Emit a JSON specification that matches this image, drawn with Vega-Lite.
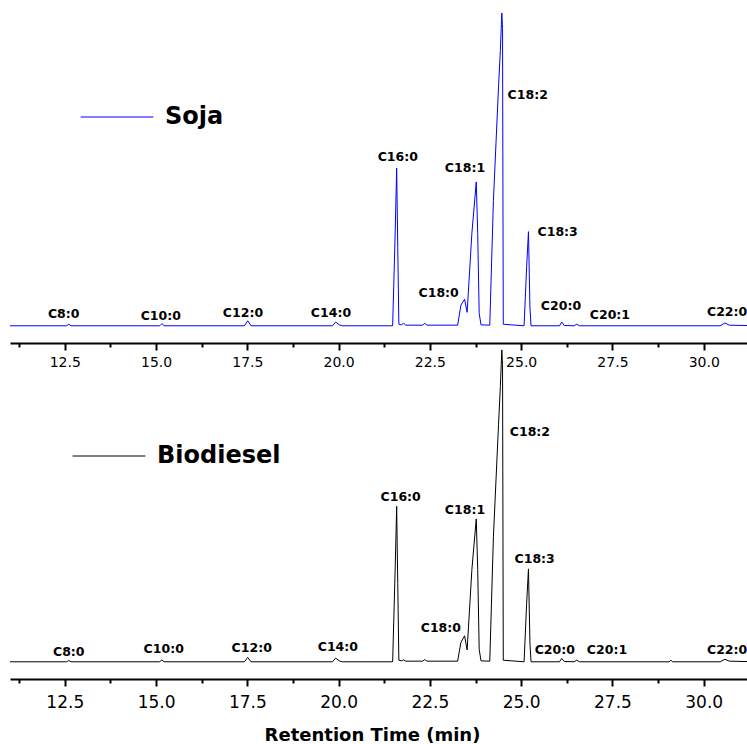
{
  "$schema": "https://vega.github.io/schema/vega-lite/v6.json",
  "padding": {"left": 8, "top": 13, "right": 0, "bottom": 0},
  "background": "white",
  "config": {
    "view": {"stroke": null},
    "font": "DejaVu Sans",
    "axis": {"grid": false, "domainColor": "black", "domainWidth": 2, "tickColor": "black", "tickWidth": 2, "labelColor": "black", "labelFont": "DejaVu Sans", "titleColor": "black"},
    "legend": {"orient": "none", "title": null, "symbolType": "stroke", "symbolSize": 5300, "symbolStrokeWidth": 1, "labelFont": "DejaVu Sans", "labelFontSize": 24, "labelFontWeight": "bold", "labelColor": "black", "labelOffset": 11, "padding": 0}
  },
  "datasets": {
    "signals": [
      {"series": "Soja", "rt": 11.0, "v": 0},
      {"series": "Soja", "rt": 12.55, "v": 0},
      {"series": "Soja", "rt": 12.61, "v": 0.5},
      {"series": "Soja", "rt": 12.67, "v": 0},
      {"series": "Soja", "rt": 15.1, "v": 0},
      {"series": "Soja", "rt": 15.16, "v": 0.7},
      {"series": "Soja", "rt": 15.22, "v": 0},
      {"series": "Soja", "rt": 17.42, "v": 0},
      {"series": "Soja", "rt": 17.51, "v": 1.6},
      {"series": "Soja", "rt": 17.6, "v": 0},
      {"series": "Soja", "rt": 19.83, "v": 0},
      {"series": "Soja", "rt": 19.92, "v": 1.2},
      {"series": "Soja", "rt": 20.02, "v": 0.3},
      {"series": "Soja", "rt": 20.1, "v": 0},
      {"series": "Soja", "rt": 21.48, "v": 0},
      {"series": "Soja", "rt": 21.55, "v": 30},
      {"series": "Soja", "rt": 21.59, "v": 50.4},
      {"series": "Soja", "rt": 21.62, "v": 25},
      {"series": "Soja", "rt": 21.65, "v": 0.5},
      {"series": "Soja", "rt": 21.72, "v": 0.3},
      {"series": "Soja", "rt": 21.78, "v": 0.8},
      {"series": "Soja", "rt": 21.84, "v": 0.2},
      {"series": "Soja", "rt": 22.3, "v": 0.2},
      {"series": "Soja", "rt": 22.36, "v": 0.8},
      {"series": "Soja", "rt": 22.42, "v": 0.2},
      {"series": "Soja", "rt": 23.26, "v": 0.2},
      {"series": "Soja", "rt": 23.35, "v": 6.6},
      {"series": "Soja", "rt": 23.45, "v": 8.5},
      {"series": "Soja", "rt": 23.52, "v": 4.3},
      {"series": "Soja", "rt": 23.65, "v": 29.6},
      {"series": "Soja", "rt": 23.77, "v": 46},
      {"series": "Soja", "rt": 23.81, "v": 29.6},
      {"series": "Soja", "rt": 23.85, "v": 4},
      {"series": "Soja", "rt": 23.9, "v": 0.3},
      {"series": "Soja", "rt": 24.14, "v": 0.2},
      {"series": "Soja", "rt": 24.24, "v": 40},
      {"series": "Soja", "rt": 24.38, "v": 76.4},
      {"series": "Soja", "rt": 24.43, "v": 88},
      {"series": "Soja", "rt": 24.47, "v": 100},
      {"series": "Soja", "rt": 24.49, "v": 95},
      {"series": "Soja", "rt": 24.51, "v": 0.5},
      {"series": "Soja", "rt": 25.08, "v": 0},
      {"series": "Soja", "rt": 25.15, "v": 18.9},
      {"series": "Soja", "rt": 25.2, "v": 30.1},
      {"series": "Soja", "rt": 25.24, "v": 6},
      {"series": "Soja", "rt": 25.27, "v": 0},
      {"series": "Soja", "rt": 26.05, "v": 0},
      {"series": "Soja", "rt": 26.11, "v": 1.2},
      {"series": "Soja", "rt": 26.18, "v": 0.1},
      {"series": "Soja", "rt": 26.45, "v": 0},
      {"series": "Soja", "rt": 26.52, "v": 0.5},
      {"series": "Soja", "rt": 26.6, "v": 0},
      {"series": "Soja", "rt": 30.45, "v": 0},
      {"series": "Soja", "rt": 30.58, "v": 0.9},
      {"series": "Soja", "rt": 30.7, "v": 0.2},
      {"series": "Soja", "rt": 31.5, "v": 0},
      {"series": "Biodiesel", "rt": 11.0, "v": 0},
      {"series": "Biodiesel", "rt": 12.55, "v": 0},
      {"series": "Biodiesel", "rt": 12.61, "v": 0.4},
      {"series": "Biodiesel", "rt": 12.67, "v": 0},
      {"series": "Biodiesel", "rt": 15.1, "v": 0},
      {"series": "Biodiesel", "rt": 15.16, "v": 0.6},
      {"series": "Biodiesel", "rt": 15.22, "v": 0},
      {"series": "Biodiesel", "rt": 17.42, "v": 0},
      {"series": "Biodiesel", "rt": 17.51, "v": 1.4},
      {"series": "Biodiesel", "rt": 17.6, "v": 0},
      {"series": "Biodiesel", "rt": 19.83, "v": 0},
      {"series": "Biodiesel", "rt": 19.92, "v": 1.2},
      {"series": "Biodiesel", "rt": 20.02, "v": 0.3},
      {"series": "Biodiesel", "rt": 20.1, "v": 0},
      {"series": "Biodiesel", "rt": 21.48, "v": 0},
      {"series": "Biodiesel", "rt": 21.55, "v": 30},
      {"series": "Biodiesel", "rt": 21.59, "v": 49.7},
      {"series": "Biodiesel", "rt": 21.62, "v": 25},
      {"series": "Biodiesel", "rt": 21.65, "v": 0.5},
      {"series": "Biodiesel", "rt": 21.72, "v": 0.3},
      {"series": "Biodiesel", "rt": 21.78, "v": 0.6},
      {"series": "Biodiesel", "rt": 21.84, "v": 0.2},
      {"series": "Biodiesel", "rt": 22.3, "v": 0.2},
      {"series": "Biodiesel", "rt": 22.36, "v": 0.7},
      {"series": "Biodiesel", "rt": 22.42, "v": 0.2},
      {"series": "Biodiesel", "rt": 23.26, "v": 0.2},
      {"series": "Biodiesel", "rt": 23.35, "v": 6.2},
      {"series": "Biodiesel", "rt": 23.45, "v": 8.3},
      {"series": "Biodiesel", "rt": 23.52, "v": 3.8},
      {"series": "Biodiesel", "rt": 23.65, "v": 29.5},
      {"series": "Biodiesel", "rt": 23.77, "v": 45.7},
      {"series": "Biodiesel", "rt": 23.81, "v": 29.5},
      {"series": "Biodiesel", "rt": 23.85, "v": 4},
      {"series": "Biodiesel", "rt": 23.9, "v": 0.3},
      {"series": "Biodiesel", "rt": 24.14, "v": 0.2},
      {"series": "Biodiesel", "rt": 24.24, "v": 40},
      {"series": "Biodiesel", "rt": 24.38, "v": 75.8},
      {"series": "Biodiesel", "rt": 24.43, "v": 88},
      {"series": "Biodiesel", "rt": 24.47, "v": 99.7},
      {"series": "Biodiesel", "rt": 24.49, "v": 95},
      {"series": "Biodiesel", "rt": 24.51, "v": 0.5},
      {"series": "Biodiesel", "rt": 25.08, "v": 0},
      {"series": "Biodiesel", "rt": 25.15, "v": 18.7},
      {"series": "Biodiesel", "rt": 25.2, "v": 29.7},
      {"series": "Biodiesel", "rt": 25.24, "v": 6},
      {"series": "Biodiesel", "rt": 25.27, "v": 0},
      {"series": "Biodiesel", "rt": 26.05, "v": 0},
      {"series": "Biodiesel", "rt": 26.11, "v": 1.1},
      {"series": "Biodiesel", "rt": 26.18, "v": 0.1},
      {"series": "Biodiesel", "rt": 26.45, "v": 0},
      {"series": "Biodiesel", "rt": 26.52, "v": 0.5},
      {"series": "Biodiesel", "rt": 26.6, "v": 0},
      {"series": "Biodiesel", "rt": 29.05, "v": 0},
      {"series": "Biodiesel", "rt": 29.1, "v": 0.5},
      {"series": "Biodiesel", "rt": 29.15, "v": 0},
      {"series": "Biodiesel", "rt": 30.45, "v": 0},
      {"series": "Biodiesel", "rt": 30.58, "v": 0.8},
      {"series": "Biodiesel", "rt": 30.7, "v": 0.2},
      {"series": "Biodiesel", "rt": 31.5, "v": 0}
    ],
    "labels": [
      {"series": "Soja", "label": "C8:0", "rt": 12.47, "v": 3.8},
      {"series": "Soja", "label": "C10:0", "rt": 15.13, "v": 3.1},
      {"series": "Soja", "label": "C12:0", "rt": 17.38, "v": 4.1},
      {"series": "Soja", "label": "C14:0", "rt": 19.79, "v": 4.1},
      {"series": "Soja", "label": "C16:0", "rt": 21.62, "v": 54.0},
      {"series": "Soja", "label": "C18:0", "rt": 22.74, "v": 10.5},
      {"series": "Soja", "label": "C18:1", "rt": 23.46, "v": 50.4},
      {"series": "Soja", "label": "C18:2", "rt": 25.18, "v": 73.8},
      {"series": "Soja", "label": "C18:3", "rt": 26.0, "v": 30.0},
      {"series": "Soja", "label": "C20:0", "rt": 26.09, "v": 6.3},
      {"series": "Soja", "label": "C20:1", "rt": 27.43, "v": 3.5},
      {"series": "Soja", "label": "C22:0", "rt": 30.64, "v": 4.4},
      {"series": "Biodiesel", "label": "C8:0", "rt": 12.61, "v": 3.1},
      {"series": "Biodiesel", "label": "C10:0", "rt": 15.21, "v": 4.1},
      {"series": "Biodiesel", "label": "C12:0", "rt": 17.62, "v": 4.4},
      {"series": "Biodiesel", "label": "C14:0", "rt": 19.98, "v": 4.7},
      {"series": "Biodiesel", "label": "C16:0", "rt": 21.7, "v": 52.7},
      {"series": "Biodiesel", "label": "C18:0", "rt": 22.8, "v": 10.8},
      {"series": "Biodiesel", "label": "C18:1", "rt": 23.46, "v": 48.5},
      {"series": "Biodiesel", "label": "C18:2", "rt": 25.24, "v": 73.5},
      {"series": "Biodiesel", "label": "C18:3", "rt": 25.37, "v": 32.9},
      {"series": "Biodiesel", "label": "C20:0", "rt": 25.92, "v": 3.8},
      {"series": "Biodiesel", "label": "C20:1", "rt": 27.35, "v": 3.8},
      {"series": "Biodiesel", "label": "C22:0", "rt": 30.64, "v": 3.8}
    ]
  },
  "vconcat": [
    {
      "width": 739,
      "height": 330,
      "layer": [
        {
          "data": {"name": "signals"},
          "transform": [{"filter": "datum.series === 'Soja'"}],
          "mark": {"type": "line", "strokeWidth": 1, "clip": true},
          "encoding": {
            "x": {"field": "rt", "type": "quantitative", "scale": {"domain": [11, 31.24], "nice": false, "zero": false},
              "axis": {"title": null, "values": [11.25, 12.5, 13.75, 15, 16.25, 17.5, 18.75, 20, 21.25, 22.5, 23.75, 25, 26.25, 27.5, 28.75, 30],
                "labelExpr": "datum.value % 2.5 === 0 ? format(datum.value, '.1f') : ''",
                "tickSize": {"condition": {"test": "datum.value % 2.5 === 0", "value": 7}, "value": 4},
                "labelFontSize": 14, "labelPadding": 5, "labelFlush": false, "labelOverlap": false}},
            "y": {"field": "v", "type": "quantitative", "scale": {"domain": [-5.5, 100], "nice": false, "zero": false}, "axis": null},
            "color": {"field": "series", "type": "nominal", "scale": {"domain": ["Soja"], "range": ["#0000ff"]},
              "legend": {"legendX": 70, "legendY": 67}}
          }
        },
        {
          "data": {"name": "labels"},
          "transform": [{"filter": "datum.series === 'Soja'"}],
          "mark": {"type": "text", "font": "DejaVu Sans", "fontWeight": "bold", "fontSize": 12.5, "color": "black", "align": "center", "baseline": "middle", "clip": true},
          "encoding": {
            "x": {"field": "rt", "type": "quantitative"},
            "y": {"field": "v", "type": "quantitative"},
            "text": {"field": "label"}
          }
        }
      ]
    },
    {
      "width": 739,
      "height": 330,
      "layer": [
        {
          "data": {"name": "signals"},
          "transform": [{"filter": "datum.series === 'Biodiesel'"}],
          "mark": {"type": "line", "strokeWidth": 1, "clip": false},
          "encoding": {
            "x": {"field": "rt", "type": "quantitative", "scale": {"domain": [11, 31.24], "nice": false, "zero": false},
              "axis": {"title": "Retention Time (min)", "values": [11.25, 12.5, 13.75, 15, 16.25, 17.5, 18.75, 20, 21.25, 22.5, 23.75, 25, 26.25, 27.5, 28.75, 30],
                "labelExpr": "datum.value % 2.5 === 0 ? format(datum.value, '.1f') : ''",
                "tickSize": {"condition": {"test": "datum.value % 2.5 === 0", "value": 7}, "value": 4},
                "labelFontSize": 17, "labelPadding": 8, "labelFlush": false, "labelOverlap": false,
                "titleFont": "DejaVu Sans", "titleFontSize": 18, "titleFontWeight": "bold", "titlePadding": 16, "titleX": 362}},
            "y": {"field": "v", "type": "quantitative", "scale": {"domain": [-5.5, 100], "nice": false, "zero": false}, "axis": null},
            "color": {"field": "series", "type": "nominal", "scale": {"domain": ["Biodiesel"], "range": ["#000000"]},
              "legend": {"legendX": 62, "legendY": 70}}
          }
        },
        {
          "data": {"name": "labels"},
          "transform": [{"filter": "datum.series === 'Biodiesel'"}],
          "mark": {"type": "text", "font": "DejaVu Sans", "fontWeight": "bold", "fontSize": 12.5, "color": "black", "align": "center", "baseline": "middle", "clip": true},
          "encoding": {
            "x": {"field": "rt", "type": "quantitative"},
            "y": {"field": "v", "type": "quantitative"},
            "text": {"field": "label"}
          }
        }
      ]
    }
  ],
  "spacing": 6,
  "bounds": "flush",
  "resolve": {"scale": {"color": "independent"}}
}
